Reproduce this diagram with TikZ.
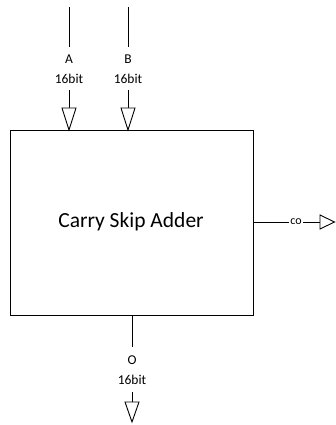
\documentclass[tikz,border=0pt]{standalone}
\usepackage{fontspec}
\setmainfont{Carlito}
\begin{document}
\begin{tikzpicture}[x=1pt,y=-1pt,
  wire/.style={draw=black,line width=0.9pt},
  headtri/.style={draw=black,fill=white,line width=0.9pt,line join=miter},
  lbl/.style={inner sep=0pt,font=\fontsize{13.5}{13.5}\selectfont},
  smalllbl/.style={inner sep=1pt,fill=white,font=\fontsize{12}{12}\selectfont}]
\useasboundingbox (0,0) rectangle (335,425);
% main block
\node[draw=black,line width=0.9pt,minimum width=243pt,minimum height=185pt,anchor=north west,inner sep=0pt] (csa) at (10,130) {};
\node[font=\fontsize{21.5}{21.5}\selectfont] (title) at (131,222) {Carry Skip Adder};
% input A
\coordinate (atop) at (69,7);
\coordinate (abot) at (69,47);
\node[lbl] (alab) at (69,59) {A};
\node[lbl] (abit) at (69,79) {16bit};
\coordinate (ast) at (69,90);
\coordinate (ahead) at (69,108);
\draw[wire] (atop) -- (abot);
\draw[wire] (ast) -- (ahead);
\draw[headtri] (62,108) -- (76,108) -- (69,130) -- cycle;
% input B
\coordinate (btop) at (128,7);
\coordinate (bbot) at (128,47);
\node[lbl] (blab) at (128,59) {B};
\node[lbl] (bbit) at (128,79) {16bit};
\coordinate (bst) at (128,90);
\coordinate (bhead) at (128,108);
\draw[wire] (btop) -- (bbot);
\draw[wire] (bst) -- (bhead);
\draw[headtri] (121,108) -- (135,108) -- (128,130) -- cycle;
% output O
\coordinate (otop) at (132,315);
\coordinate (obot) at (132,347);
\node[lbl] (olab) at (132,360) {O};
\node[lbl] (obit) at (132,380) {16bit};
\coordinate (ost) at (132,392);
\coordinate (ohead) at (132,402);
\draw[wire] (otop) -- (obot);
\draw[wire] (ost) -- (ohead);
\draw[headtri] (125,402) -- (139,402) -- (132,422) -- cycle;
% carry out
\coordinate (cst) at (253,222);
\coordinate (chead) at (320,222);
\draw[wire] (cst) -- (chead);
\node[smalllbl] (clab) at (296,222) {co};
\draw[headtri] (320,215) -- (320,229) -- (334.5,222) -- cycle;
\end{tikzpicture}
\end{document}
